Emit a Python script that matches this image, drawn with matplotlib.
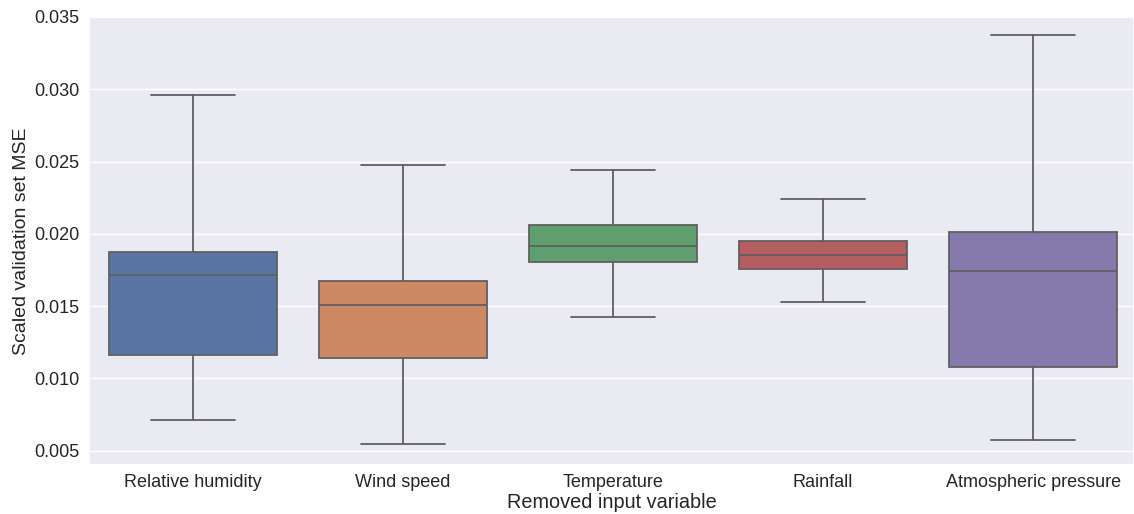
import colorsys

import matplotlib
matplotlib.use("Agg")
import matplotlib.pyplot as plt
import matplotlib.colors as mcolors
import seaborn as sns

# values
variables = ["Relative humidity", "Wind speed", "Temperature", "Rainfall", "Atmospheric pressure"]
whisker_low = [0.00710, 0.00543, 0.01422, 0.01526, 0.00571]
q1 = [0.01159, 0.01139, 0.01803, 0.01755, 0.01076]
median = [0.01713, 0.01505, 0.01914, 0.01852, 0.01741]
q3 = [0.01873, 0.01672, 0.02060, 0.01949, 0.02010]
whisker_high = [0.02960, 0.02475, 0.02440, 0.02240, 0.03375]


def desaturate(color, prop):
    h, l, s = colorsys.rgb_to_hls(*mcolors.to_rgb(color))
    return colorsys.hls_to_rgb(h, l, s * prop)


sns.set_theme(style="darkgrid")
plt.rcParams["font.family"] = ["Liberation Sans", "DejaVu Sans"]

palette = [desaturate(c, 0.75) for c in sns.color_palette("deep", len(variables))]
line_gray = "#606060"

stats = []
for name, lo, a, m, b, hi in zip(variables, whisker_low, q1, median, q3, whisker_high):
    stats.append({"label": name, "whislo": lo, "q1": a, "med": m, "q3": b, "whishi": hi, "fliers": []})

fig = plt.figure(figsize=(11.34, 5.14), dpi=100)
ax = fig.add_axes([89 / 1134, 49 / 514, (1134 - 89) / 1134, (465 - 17) / 514])

line_kw = {"color": line_gray, "linewidth": 1.3}
parts = ax.bxp(
    stats,
    positions=range(len(variables)),
    widths=0.8,
    capwidths=0.4,
    patch_artist=True,
    showfliers=False,
    boxprops={"edgecolor": line_gray, "linewidth": 1.3},
    whiskerprops=line_kw,
    capprops=line_kw,
    medianprops=line_kw,
)
for box, color in zip(parts["boxes"], palette):
    box.set_facecolor(color)

ax.set_xlim(-0.495, 4.48)
ax.set_ylim(0.004, 0.035)
ax.set_yticks([0.005, 0.010, 0.015, 0.020, 0.025, 0.030, 0.035])
ax.set_yticklabels([f"{v:.3f}" for v in ax.get_yticks()])
ax.tick_params(axis="both", labelsize=13, colors="#262626")
ax.tick_params(axis="x", pad=0.6)
ax.tick_params(axis="y", pad=0.8)
ax.set_xlabel("Removed input variable", fontsize=14.3, color="#262626", labelpad=1)
ax.set_ylabel("Scaled validation set MSE", fontsize=14, color="#262626", labelpad=3)
ax.grid(axis="x", visible=False)

fig.savefig("out.png", dpi=100)
